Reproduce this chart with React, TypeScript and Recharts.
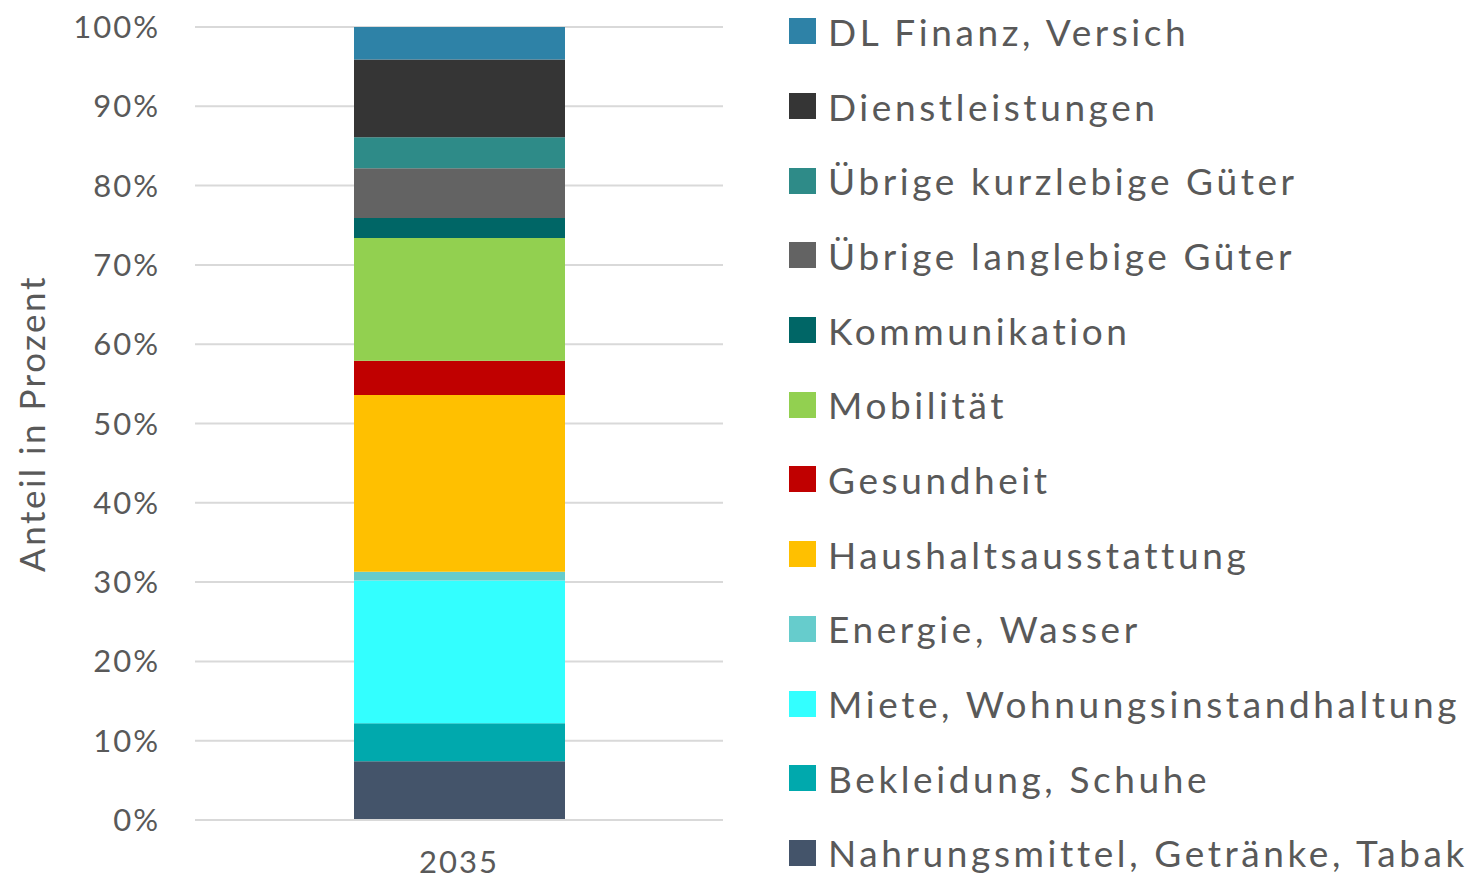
import { Bar, BarChart, CartesianGrid, Legend, XAxis, YAxis } from 'recharts'

const years = ['2035']
const categories = [
  'Nahrungsmittel, Getränke, Tabak',
  'Bekleidung, Schuhe',
  'Miete, Wohnungsinstandhaltung',
  'Energie, Wasser',
  'Haushaltsausstattung',
  'Gesundheit',
  'Mobilität',
  'Kommunikation',
  'Übrige langlebige Güter',
  'Übrige kurzlebige Güter',
  'Dienstleistungen',
  'DL Finanz, Versich',
]
const shares2035 = [7.4, 4.8, 18.0, 1.1, 22.3, 4.3, 15.5, 2.5, 6.3, 3.9, 9.8, 4.1]
const colors = [
  '#44546A', '#00A9AD', '#33FFFF', '#66CCCC', '#FFC000', '#C00000',
  '#92D050', '#006666', '#636363', '#2E8B88', '#353535', '#2E82A7',
]
const yTicks = [0, 10, 20, 30, 40, 50, 60, 70, 80, 90, 100]

const data = years.map((year) => {
  const row: Record<string, string | number> = { year }
  categories.forEach((name, i) => {
    row[name] = shares2035[i]
  })
  return row
})

const font = 'Lato, "Open Sans", sans-serif'
const textColor = '#595959'
const spacing = 3.6

// legend lists the series top-down, same order as the stack
function LegendList() {
  const items = categories.map((name, i) => ({ name, color: colors[i] })).reverse()
  return (
    <ul style={{ listStyle: 'none', margin: 0, padding: 0 }}>
      {items.map((item) => (
        <li
          key={item.name}
          style={{
            display: 'flex',
            alignItems: 'center',
            height: 74.7,
            fontFamily: font,
            fontSize: 37,
            letterSpacing: spacing,
            color: textColor,
            whiteSpace: 'nowrap',
          }}
        >
          <span style={{ display: 'inline-block', width: 27, height: 26, background: item.color, marginRight: 12 }} />
          {item.name}
        </li>
      ))}
    </ul>
  )
}

export default function App() {
  return (
    <div style={{ position: 'fixed', left: 0, top: 0, width: 1479, height: 883, background: '#fff', overflow: 'hidden' }}>
      <BarChart width={1479} height={883} data={data} margin={{ top: 27, right: 756, left: 0, bottom: 0 }}>
        <CartesianGrid stroke="#D9D9D9" strokeWidth={2} vertical={false} />
        <XAxis
          dataKey="year"
          height={63}
          axisLine={{ stroke: '#D9D9D9', strokeWidth: 2 }}
          tickLine={false}
          tickSize={0}
          tickMargin={31}
          tick={{ fill: textColor, fontSize: 31, fontFamily: font, letterSpacing: 2 }}
        />
        <YAxis
          width={195}
          domain={[0, 100]}
          ticks={yTicks}
          tickFormatter={(v) => `${v}%`}
          axisLine={false}
          tickLine={false}
          tickSize={0}
          tickMargin={35}
          tick={{ fill: textColor, fontSize: 31, fontFamily: font, letterSpacing: 2 }}
          label={{
            value: 'Anteil in Prozent',
            angle: -90,
            position: 'insideLeft',
            offset: 33,
            style: { textAnchor: 'middle', fill: textColor, fontSize: 35, fontFamily: font, letterSpacing: 2.5 },
          }}
        />
        <Legend
          layout="vertical"
          align="center"
          verticalAlign="middle"
          wrapperStyle={{ left: 789, top: -6, width: 690 }}
          content={<LegendList />}
        />
        {categories.map((name, i) => (
          <Bar key={name} dataKey={name} stackId="a" fill={colors[i]} barSize={211} isAnimationActive={false} />
        ))}
      </BarChart>
    </div>
  )
}
